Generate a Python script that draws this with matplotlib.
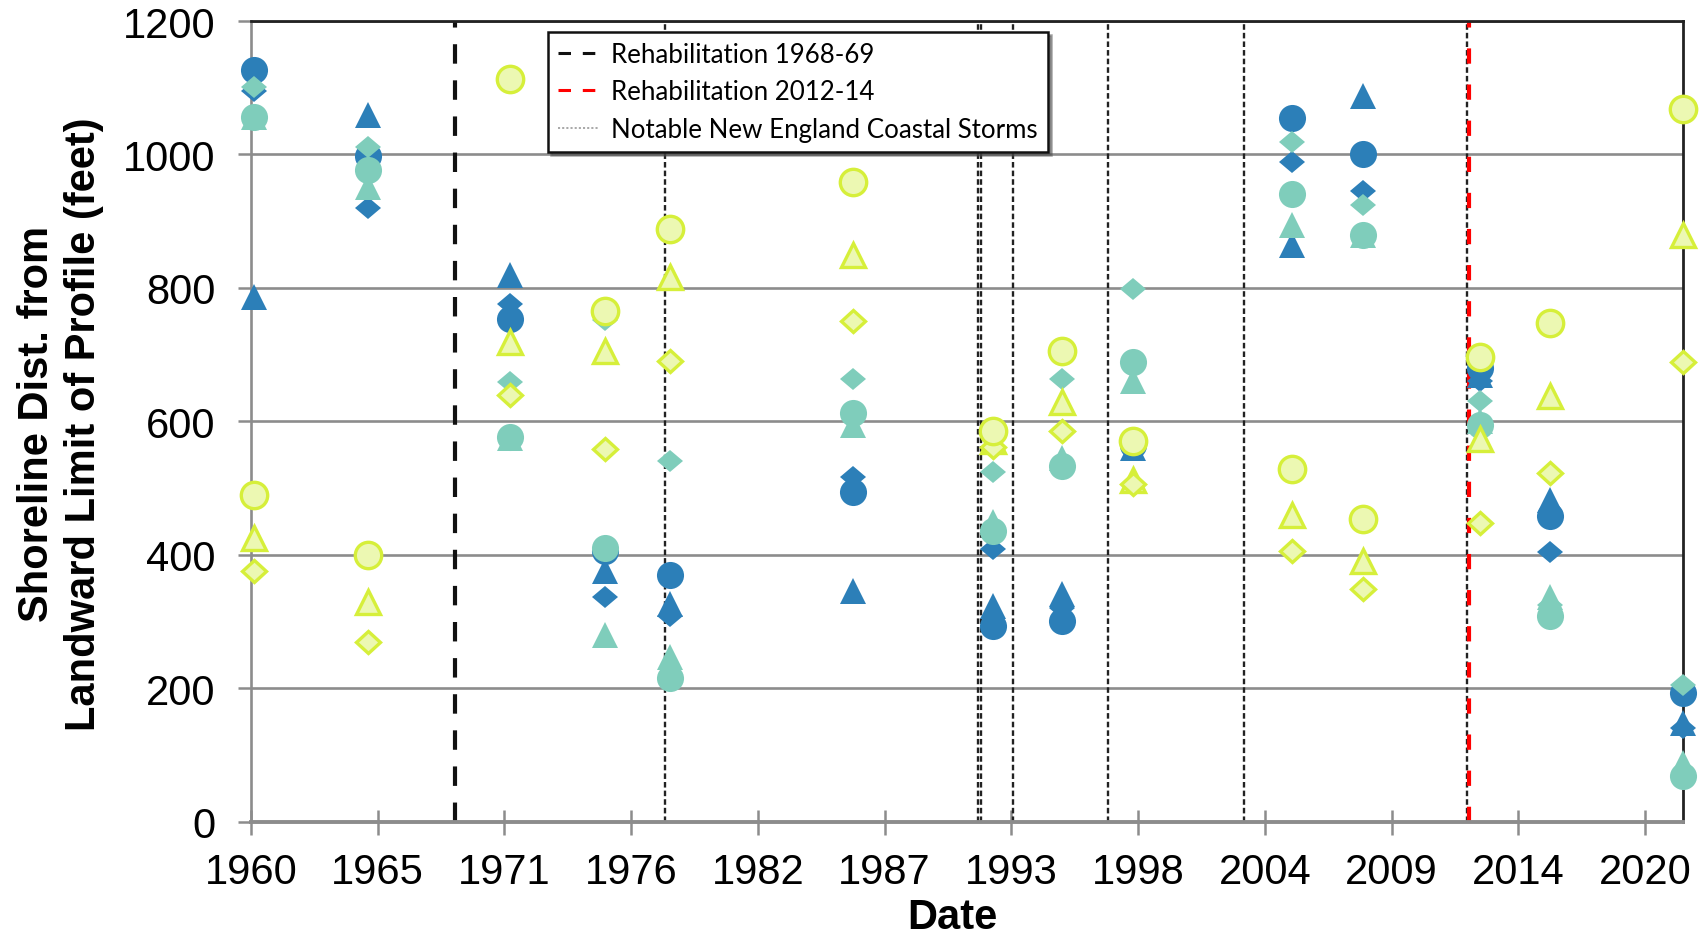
"""
Shoreline position vs. survey date, with rehabilitation and storm markers.
"""

import numpy as np
import matplotlib
matplotlib.use('Agg')
import matplotlib.pyplot as plt
from matplotlib.lines import Line2D
from matplotlib.markers import MarkerStyle
from matplotlib.transforms import Affine2D

# Survey dates (decimal years) - one column of points per survey
survey_years = [1960.31, 1965.25, 1971.37, 1975.48, 1978.29, 1986.21, 1992.26,
                1995.24, 1998.27, 2005.15, 2008.25, 2013.29, 2016.32, 2022.06]

# Shoreline distance (feet) per series
blue_circle = [1126, 997, 754, 405, 369, 494, 293, 301, 565, 1054, 1001, 680, 458, 193]
blue_triangle = [786, 1059, 819, 376, 326, 346, 324, 341, 560, 864, 1087, 670, 482, 148]
blue_diamond = [1095, 920, 776, 336, 308, 517, 409, 320, 570, 989, 945, 660, 404, 140]

teal_circle = [1056, 977, 577, 410, 215, 613, 435, 533, 689, 941, 880, 594, 309, 68]
teal_triangle = [1056, 951, 575, 280, 247, 595, 449, 545, 661, 894, 880, 600, 337, 88]
teal_diamond = [1101, 1011, 659, 752, 541, 664, 524, 664, 799, 1018, 925, 630, 325, 205]

yellow_circle = [490, 400, 1113, 766, 889, 959, 585, 706, 571, 529, 454, 696, 748, 1068]
yellow_triangle = [425, 330, 719, 706, 817, 849, 570, 629, 512, 459, 390, 574, 638, 879]
yellow_diamond = [376, 269, 639, 558, 691, 751, 562, 586, 506, 406, 349, 447, 522, 689]

# Event dates (decimal years)
REHAB_1 = 1969.00
REHAB_2 = 2012.82
storm_years = [1978.07, 1991.58, 1991.73, 1993.12, 1997.22, 2003.09, 2012.72]

# Date axis (Excel style: 2000-day steps, labelled by year)
X0 = 1960.18
TICK_STEP = 2000 / 365.25
tick_labels = ['1960', '1965', '1971', '1976', '1982', '1987',
               '1993', '1998', '2004', '2009', '2014', '2020']

BLUE = '#2c7fb8'
TEAL = '#7fcdbb'
YEL_FACE = '#ecf8b2'
YEL_EDGE = '#d6ef3a'
GRID = '#8c8c8c'

plt.rcParams['font.family'] = ['Liberation Sans', 'DejaVu Sans']
plt.rcParams['lines.scale_dashes'] = False

fig = plt.figure(figsize=(17.03, 9.37), dpi=100)
ax = fig.add_axes([0.1474, 0.1220, 0.8409, 0.8545])

# vertical event lines (behind markers)
for yr in storm_years:
    ax.axvline(yr, color='#222222', lw=1.7, dashes=(4.0, 2.2), zorder=2)
ax.axvline(REHAB_1, color='#111111', lw=3.0, dashes=(14, 12), zorder=2)
ax.axvline(REHAB_2, color='#ff0000', lw=3.0, dashes=(11, 15), zorder=2)

diamond = MarkerStyle('D', transform=Affine2D().scale(1.0, 0.88))

series = [
    (blue_triangle, '^', BLUE, BLUE, 18.5, 0),
    (blue_diamond, diamond, BLUE, BLUE, 13.0, 0),
    (blue_circle, 'o', BLUE, BLUE, 19.5, 0),
    (teal_triangle, '^', TEAL, TEAL, 18.5, 0),
    (teal_diamond, diamond, TEAL, TEAL, 13.0, 0),
    (teal_circle, 'o', TEAL, TEAL, 19.5, 0),
    (yellow_triangle, '^', YEL_FACE, YEL_EDGE, 17.5, 2.4),
    (yellow_diamond, diamond, YEL_FACE, YEL_EDGE, 12.5, 2.4),
    (yellow_circle, 'o', YEL_FACE, YEL_EDGE, 19.0, 2.4),
]
for i, (vals, mk, fc, ec, ms, mew) in enumerate(series):
    ax.plot(survey_years, vals, linestyle='none', marker=mk, markersize=ms,
            markerfacecolor=fc, markeredgecolor=ec, markeredgewidth=mew,
            clip_on=False, zorder=3 + i)

# axes
ax.set_xlim(X0, survey_years[-1])
ax.set_ylim(0, 1200)
ax.set_yticks(np.arange(0, 1201, 200))
ax.set_xticks([X0 + k * TICK_STEP for k in range(len(tick_labels))])
ax.set_xticklabels(tick_labels)
ax.yaxis.grid(True, color=GRID, lw=1.9)
ax.set_axisbelow(True)

ax.tick_params(axis='x', direction='inout', length=18, width=1.8, color=GRID,
               labelsize=30, pad=13)
ax.tick_params(axis='y', direction='out', length=9.4, width=1.8, color=GRID,
               labelsize=30, pad=16)
ax.spines['left'].set_color(GRID)
ax.spines['left'].set_linewidth(1.9)
ax.spines['bottom'].set_color(GRID)
ax.spines['bottom'].set_linewidth(2.8)
ax.spines['top'].set_color('#222222')
ax.spines['top'].set_linewidth(2.0)
ax.spines['right'].set_color('#222222')
ax.spines['right'].set_linewidth(2.0)

ax.set_xlabel('Date', fontsize=30, fontweight='bold')
ax.xaxis.set_label_coords(0.49, -0.094)
ax.set_ylabel('Shoreline Dist. from\nLandward Limit of Profile (feet)',
              fontsize=30, fontweight='bold')
ax.yaxis.set_label_coords(-0.103, 0.498)

# legend
handles = [
    Line2D([], [], color='#111111', lw=2.2, dashes=(9, 8.5)),
    Line2D([], [], color='#ff0000', lw=2.2, dashes=(9, 8.5)),
    Line2D([], [], color='#999999', lw=1.2, dashes=(1.5, 1.5)),
]
labels = ['Rehabilitation 1968-69', 'Rehabilitation 2012-14',
          'Notable New England Coastal Storms']
leg = ax.legend(handles, labels, loc='upper left',
                bbox_to_anchor=(548 / 1703, 1 - 33 / 937),
                bbox_transform=fig.transFigure, borderaxespad=0,
                prop={'family': 'Lato', 'size': 18.6}, frameon=True,
                fancybox=False, shadow=True, framealpha=1,
                edgecolor='#111111', handlelength=1.57, handletextpad=0.47,
                labelspacing=0.47, borderpad=0.4)
leg.get_frame().set_linewidth(1.8)
leg.set_zorder(20)

fig.savefig('out.png', dpi=100)
